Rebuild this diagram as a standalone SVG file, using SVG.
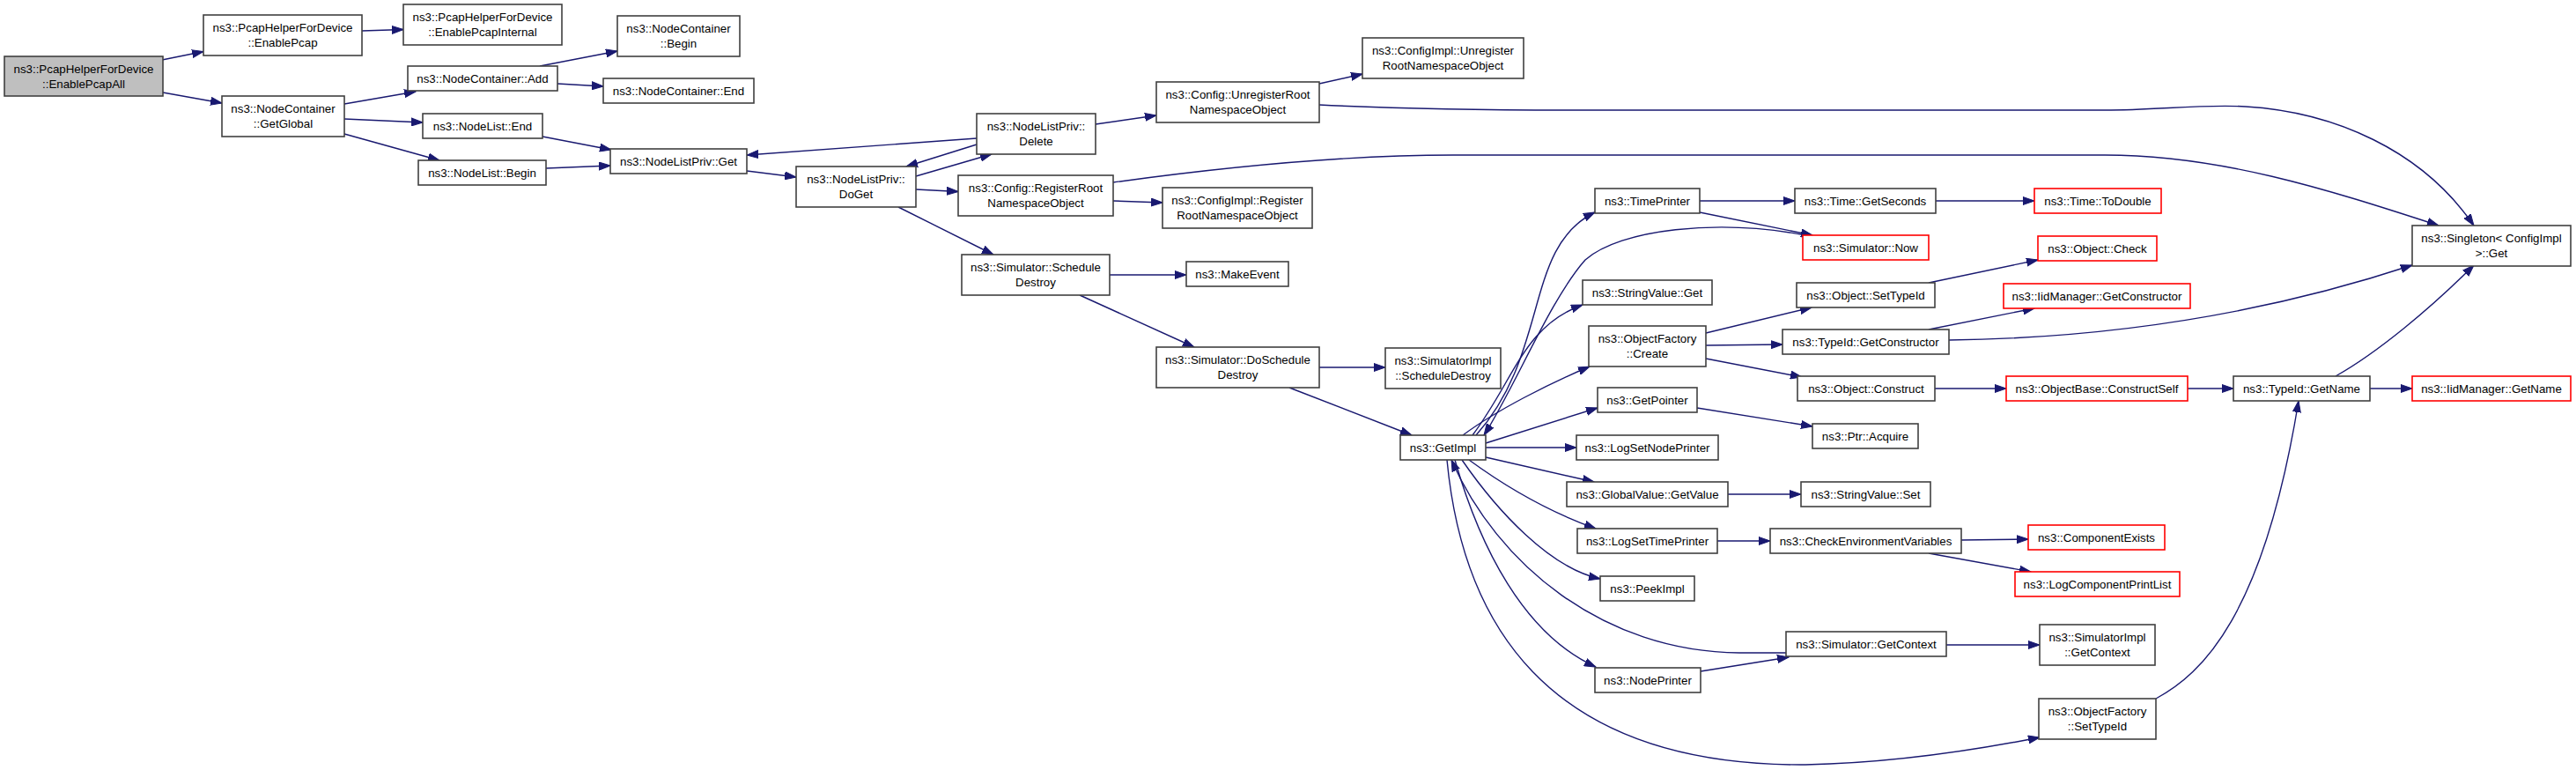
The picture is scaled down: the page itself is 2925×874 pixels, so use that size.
<svg xmlns="http://www.w3.org/2000/svg" width="2925" height="874" viewBox="0 0 2925 874">
<style>
.n rect{fill:#fff;stroke:#404040;stroke-width:1.6}
.n.r rect{stroke:#ff0000}
.n.g rect{fill:#bfbfbf}
.n text{font-family:"Liberation Sans",Arial,sans-serif;font-size:13.3px;text-anchor:middle;fill:#000}
.e path{fill:none;stroke:#191970;stroke-width:1.4;marker-end:url(#a)}
</style>
<defs>
<marker id="a" markerUnits="userSpaceOnUse" markerWidth="14" markerHeight="10" refX="13" refY="5" orient="auto"><path d="M0,0.5 L13,5 L0,9.5 z" fill="#191970" stroke="#191970" stroke-width="1"/></marker>
</defs>
<rect width="2925" height="874" fill="#fff"/>
<g class="e">
<path d="M184,68 L231,58.5"/>
<path d="M185,105 L252,117"/>
<path d="M411,35 L458,33.5"/>
<path d="M391,118 L472,104"/>
<path d="M391,135 L480,139"/>
<path d="M391,152 L499,182"/>
<path d="M613,75 L701,58"/>
<path d="M633,95 L685,98"/>
<path d="M616,155 L694,170"/>
<path d="M620,191 L693,188"/>
<path d="M848,194 L904,201"/>
<path d="M1040,200 L1126,175"/>
<path d="M1109,157 L848,176"/>
<path d="M1109,164 L1029,189"/>
<path d="M1040,215 L1088,217.5"/>
<path d="M1020,235 L1128,289"/>
<path d="M1244,141 L1313,131"/>
<path d="M1264,228 L1320,230"/>
<path d="M1264,207 C1380,191 1520,176 1650,176 L2390,176 C2520,176 2640,214 2769,256"/>
<path d="M1498,119 C1600,124 1700,125 1800,125 L2390,125 C2450,125 2500,118 2550,121 C2650,127 2750,170 2809,256"/>
<path d="M1498,95 L1547,84"/>
<path d="M1260,312 L1347,312"/>
<path d="M1226,335 L1356,394"/>
<path d="M1498,417 L1573,417"/>
<path d="M1464,440 L1603,494"/>
<path d="M1661,494 C1700,465 1760,435 1805,416"/>
<path d="M1672,494 C1720,430 1730,370 1797,346"/>
<path d="M1676,494 C1760,400 1730,280 1811,241"/>
<path d="M2050,267 C1950,248 1840,260 1800,295 C1760,340 1720,440 1685,494"/>
<path d="M1687,503 L1814,463"/>
<path d="M1687,508 L1790,508"/>
<path d="M1687,519 L1810,547"/>
<path d="M1668,522 C1720,560 1770,585 1812,600"/>
<path d="M1660,522 C1700,580 1760,645 1817,657"/>
<path d="M2028,741 L1975,741 C1820,740 1700,640 1648,522"/>
<path d="M1652,522 C1680,620 1730,720 1812,757"/>
<path d="M1643,522 C1660,700 1750,870 2050,868 C2150,866 2250,850 2316,837"/>
<path d="M1930,228 L2038,228"/>
<path d="M1930,241 L2058,267"/>
<path d="M2198,228 L2310,228"/>
<path d="M1937,378 L2057,349"/>
<path d="M1937,392 L2024,391"/>
<path d="M1937,407 L2046,428"/>
<path d="M2190,321 L2314,295"/>
<path d="M2190,374 L2310,350"/>
<path d="M2213,386 C2380,384 2560,360 2739,301"/>
<path d="M2197,441 L2278,441"/>
<path d="M2484,441 L2536,441"/>
<path d="M2691,441 L2739,441"/>
<path d="M2652,427 C2700,400 2760,350 2809,301"/>
<path d="M2448,793 C2500,765 2570,700 2610,455"/>
<path d="M1962,561 L2045,561"/>
<path d="M1927,463 L2058,484"/>
<path d="M1950,614 L2010,614"/>
<path d="M2227,613 L2303,612"/>
<path d="M2190,628 L2306,649"/>
<path d="M1931,762 L2031,746"/>
<path d="M2210,732 L2316,732"/>
</g>
<g id="root" class="n g"><rect x="5" y="64" width="180" height="45"/><text x="95" y="83">ns3::PcapHelperForDevice</text><text x="95" y="100">::EnablePcapAll</text></g>
<g id="enablePcap" class="n"><rect x="231" y="17" width="180" height="46"/><text x="321" y="36">ns3::PcapHelperForDevice</text><text x="321" y="53">::EnablePcap</text></g>
<g id="enablePcapInternal" class="n"><rect x="458" y="5" width="180" height="46"/><text x="548" y="24">ns3::PcapHelperForDevice</text><text x="548" y="41">::EnablePcapInternal</text></g>
<g id="getGlobal" class="n"><rect x="252" y="109" width="139" height="46"/><text x="321.5" y="128">ns3::NodeContainer</text><text x="321.5" y="145">::GetGlobal</text></g>
<g id="ncAdd" class="n"><rect x="463" y="75" width="170" height="28"/><text x="548" y="93.5">ns3::NodeContainer::Add</text></g>
<g id="nodeListEnd" class="n"><rect x="480" y="129" width="136" height="28"/><text x="548" y="147.5">ns3::NodeList::End</text></g>
<g id="nodeListBegin" class="n"><rect x="475" y="182" width="145" height="28"/><text x="547.5" y="200.5">ns3::NodeList::Begin</text></g>
<g id="ncBegin" class="n"><rect x="701" y="18" width="139" height="46"/><text x="770.5" y="37">ns3::NodeContainer</text><text x="770.5" y="54">::Begin</text></g>
<g id="ncEnd" class="n"><rect x="685" y="89" width="171" height="28"/><text x="770.5" y="107.5">ns3::NodeContainer::End</text></g>
<g id="nlpGet" class="n"><rect x="693" y="169" width="155" height="28"/><text x="770.5" y="187.5">ns3::NodeListPriv::Get</text></g>
<g id="doGet" class="n"><rect x="904" y="189" width="136" height="46"/><text x="972" y="208">ns3::NodeListPriv::</text><text x="972" y="225">DoGet</text></g>
<g id="nlpDelete" class="n"><rect x="1109" y="129" width="135" height="46"/><text x="1176.5" y="148">ns3::NodeListPriv::</text><text x="1176.5" y="165">Delete</text></g>
<g id="registerRoot" class="n"><rect x="1088" y="199" width="176" height="46"/><text x="1176" y="218">ns3::Config::RegisterRoot</text><text x="1176" y="235">NamespaceObject</text></g>
<g id="scheduleDestroy" class="n"><rect x="1092" y="289" width="168" height="46"/><text x="1176" y="308">ns3::Simulator::Schedule</text><text x="1176" y="325">Destroy</text></g>
<g id="unregisterRoot" class="n"><rect x="1313" y="93" width="185" height="46"/><text x="1405.5" y="112">ns3::Config::UnregisterRoot</text><text x="1405.5" y="129">NamespaceObject</text></g>
<g id="configImplRegister" class="n"><rect x="1320" y="213" width="170" height="46"/><text x="1405" y="232">ns3::ConfigImpl::Register</text><text x="1405" y="249">RootNamespaceObject</text></g>
<g id="makeEvent" class="n"><rect x="1347" y="297" width="116" height="28"/><text x="1405" y="315.5">ns3::MakeEvent</text></g>
<g id="doScheduleDestroy" class="n"><rect x="1313" y="394" width="185" height="46"/><text x="1405.5" y="413">ns3::Simulator::DoSchedule</text><text x="1405.5" y="430">Destroy</text></g>
<g id="configImplUnregister" class="n"><rect x="1547" y="43" width="183" height="46"/><text x="1638.5" y="62">ns3::ConfigImpl::Unregister</text><text x="1638.5" y="79">RootNamespaceObject</text></g>
<g id="simImplScheduleDestroy" class="n"><rect x="1573" y="395" width="131" height="46"/><text x="1638.5" y="414">ns3::SimulatorImpl</text><text x="1638.5" y="431">::ScheduleDestroy</text></g>
<g id="getImpl" class="n"><rect x="1590" y="494" width="97" height="28"/><text x="1638.5" y="512.5">ns3::GetImpl</text></g>
<g id="timePrinter" class="n"><rect x="1811" y="214" width="119" height="28"/><text x="1870.5" y="232.5">ns3::TimePrinter</text></g>
<g id="stringValueGet" class="n"><rect x="1797" y="318" width="147" height="28"/><text x="1870.5" y="336.5">ns3::StringValue::Get</text></g>
<g id="ofCreate" class="n"><rect x="1804" y="370" width="133" height="46"/><text x="1870.5" y="389">ns3::ObjectFactory</text><text x="1870.5" y="406">::Create</text></g>
<g id="getPointer" class="n"><rect x="1814" y="440" width="113" height="28"/><text x="1870.5" y="458.5">ns3::GetPointer</text></g>
<g id="logSetNodePrinter" class="n"><rect x="1790" y="494" width="161" height="28"/><text x="1870.5" y="512.5">ns3::LogSetNodePrinter</text></g>
<g id="globalValueGetValue" class="n"><rect x="1779" y="547" width="183" height="28"/><text x="1870.5" y="565.5">ns3::GlobalValue::GetValue</text></g>
<g id="logSetTimePrinter" class="n"><rect x="1791" y="600" width="159" height="28"/><text x="1870.5" y="618.5">ns3::LogSetTimePrinter</text></g>
<g id="peekImpl" class="n"><rect x="1817" y="654" width="107" height="28"/><text x="1870.5" y="672.5">ns3::PeekImpl</text></g>
<g id="nodePrinter" class="n"><rect x="1811" y="758" width="120" height="28"/><text x="1871" y="776.5">ns3::NodePrinter</text></g>
<g id="timeGetSeconds" class="n"><rect x="2038" y="214" width="160" height="28"/><text x="2118" y="232.5">ns3::Time::GetSeconds</text></g>
<g id="simNow" class="n r"><rect x="2047" y="267" width="143" height="28"/><text x="2118.5" y="285.5">ns3::Simulator::Now</text></g>
<g id="objectSetTypeId" class="n"><rect x="2040" y="321" width="157" height="28"/><text x="2118.5" y="339.5">ns3::Object::SetTypeId</text></g>
<g id="typeIdGetConstructor" class="n"><rect x="2024" y="374" width="189" height="28"/><text x="2118.5" y="392.5">ns3::TypeId::GetConstructor</text></g>
<g id="objectConstruct" class="n"><rect x="2041" y="427" width="156" height="28"/><text x="2119" y="445.5">ns3::Object::Construct</text></g>
<g id="ptrAcquire" class="n"><rect x="2058" y="481" width="120" height="28"/><text x="2118" y="499.5">ns3::Ptr::Acquire</text></g>
<g id="stringValueSet" class="n"><rect x="2045" y="547" width="147" height="28"/><text x="2118.5" y="565.5">ns3::StringValue::Set</text></g>
<g id="checkEnv" class="n"><rect x="2010" y="600" width="217" height="28"/><text x="2118.5" y="618.5">ns3::CheckEnvironmentVariables</text></g>
<g id="simGetContext" class="n"><rect x="2028" y="717" width="182" height="28"/><text x="2119" y="735.5">ns3::Simulator::GetContext</text></g>
<g id="timeToDouble" class="n r"><rect x="2310" y="214" width="144" height="28"/><text x="2382" y="232.5">ns3::Time::ToDouble</text></g>
<g id="objectCheck" class="n r"><rect x="2314" y="268" width="135" height="28"/><text x="2381.5" y="286.5">ns3::Object::Check</text></g>
<g id="iidGetConstructor" class="n r"><rect x="2275" y="322" width="212" height="28"/><text x="2381" y="340.5">ns3::IidManager::GetConstructor</text></g>
<g id="constructSelf" class="n r"><rect x="2278" y="427" width="206" height="28"/><text x="2381" y="445.5">ns3::ObjectBase::ConstructSelf</text></g>
<g id="componentExists" class="n r"><rect x="2303" y="596" width="155" height="28"/><text x="2380.5" y="614.5">ns3::ComponentExists</text></g>
<g id="logComponentPrintList" class="n r"><rect x="2288" y="649" width="187" height="28"/><text x="2381.5" y="667.5">ns3::LogComponentPrintList</text></g>
<g id="simImplGetContext" class="n"><rect x="2316" y="709" width="131" height="46"/><text x="2381.5" y="728">ns3::SimulatorImpl</text><text x="2381.5" y="745">::GetContext</text></g>
<g id="ofSetTypeId" class="n"><rect x="2315" y="793" width="133" height="46"/><text x="2381.5" y="812">ns3::ObjectFactory</text><text x="2381.5" y="829">::SetTypeId</text></g>
<g id="typeIdGetName" class="n"><rect x="2536" y="427" width="155" height="28"/><text x="2613.5" y="445.5">ns3::TypeId::GetName</text></g>
<g id="singletonGet" class="n"><rect x="2739" y="256" width="180" height="46"/><text x="2829" y="275">ns3::Singleton&lt; ConfigImpl</text><text x="2829" y="292"> &gt;::Get</text></g>
<g id="iidGetName" class="n r"><rect x="2739" y="427" width="180" height="28"/><text x="2829" y="445.5">ns3::IidManager::GetName</text></g>
</svg>
